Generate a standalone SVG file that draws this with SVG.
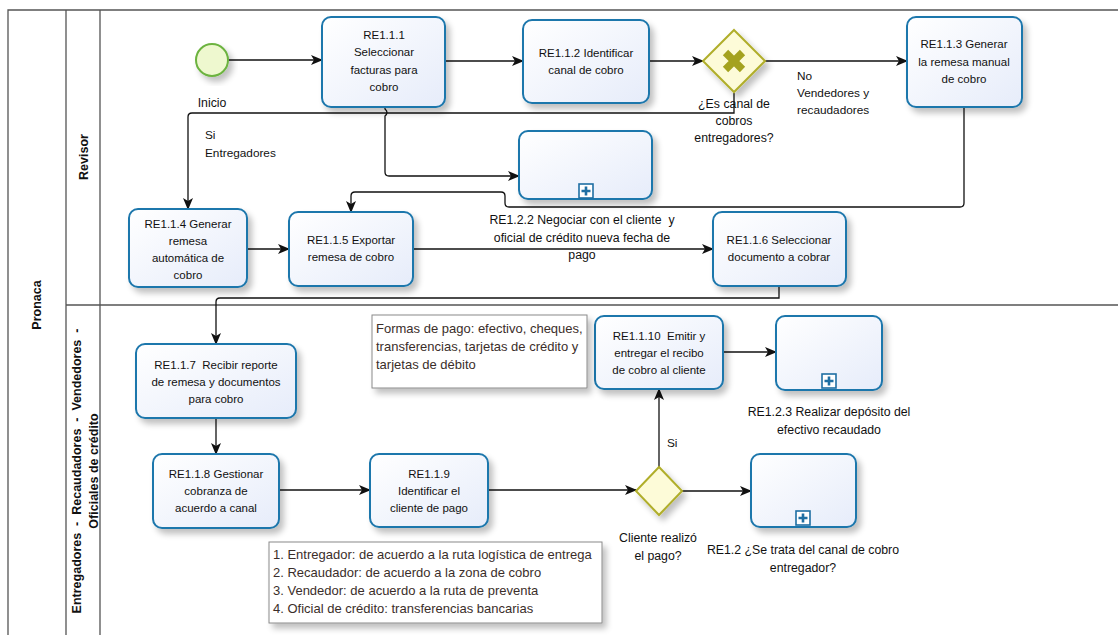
<svg xmlns="http://www.w3.org/2000/svg" width="1118" height="635" viewBox="0 0 1118 635">
  <defs>
    <linearGradient id="taskFill" x1="0" y1="0" x2="1" y2="1">
      <stop offset="0" stop-color="#ffffff"/>
      <stop offset="1" stop-color="#e6ecfa"/>
    </linearGradient>
    <filter id="shadow" x="-20%" y="-20%" width="150%" height="150%">
      <feGaussianBlur in="SourceAlpha" stdDeviation="3"/>
      <feOffset dx="4" dy="5" result="b"/>
      <feComponentTransfer><feFuncA type="linear" slope="0.25"/></feComponentTransfer>
      <feMerge><feMergeNode/><feMergeNode in="SourceGraphic"/></feMerge>
    </filter>
    <marker id="arrow" viewBox="0 0 12 10" refX="11" refY="5" markerWidth="12" markerHeight="10" markerUnits="userSpaceOnUse" orient="auto">
      <path d="M0,0 L12,5 L0,10 L3,5 z" fill="#111"/>
    </marker>
    <g id="plusMarker">
      <rect x="-7" y="-7" width="14" height="14" fill="#fff" stroke="#1f6fa3" stroke-width="1.6"/>
      <path d="M-4.5,0 H4.5 M0,-4.5 V4.5" stroke="#1f6fa3" stroke-width="2.6"/>
    </g>
  </defs>
  <style>
    text { white-space: pre; }
    .lane { fill: none; stroke: #555; stroke-width: 1.3; }
    .task { fill: url(#taskFill); stroke: #1f77ac; stroke-width: 2; filter: url(#shadow); }
    .gw { fill: #fdfbd8; stroke: #b0ae2a; stroke-width: 2; filter: url(#shadow); }
    .t { font-family: "Liberation Sans", Arial, sans-serif; font-size: 11.5px; fill: #111; text-anchor: middle; }
    .lbl { font-family: "Liberation Sans", Arial, sans-serif; font-size: 12.3px; fill: #111; text-anchor: middle; }
    .tl { font-family: "Liberation Sans", Arial, sans-serif; font-size: 11.8px; fill: #111; }
    .note { font-family: "Liberation Sans", Arial, sans-serif; font-size: 13px; fill: #3b2e2a; }
    .hdr { font-family: "Liberation Sans", Arial, sans-serif; font-size: 12.5px; font-weight: bold; fill: #111; text-anchor: middle; }
    .flow { fill: none; stroke: #111; stroke-width: 1.3; marker-end: url(#arrow); }
    .annot { fill: #fff; stroke: #8a8a8a; stroke-width: 1; filter: url(#shadow); }
  </style>

  <rect width="1118" height="635" fill="#fff"/>

  <!-- pool and lanes -->
  <g id="pool">
    <path class="lane" d="M1120,10 H8 V640"/>
    <path class="lane" d="M66,10 V640 M100,10 V640 M66,305 H1120"/>
    <text class="hdr" transform="translate(41,305) rotate(-90)">Pronaca</text>
    <text class="hdr" transform="translate(88,157) rotate(-90)">Revisor</text>
    <text class="hdr" transform="translate(81,471) rotate(-90)">Entregadores  -  Recaudadores  -  Vendedores  -</text>
    <text class="hdr" transform="translate(98,471) rotate(-90)">Oficiales de crédito</text>
  </g>

  <!-- sequence flows -->
  <g id="connectors">
    <path class="flow" d="M228,60 H322"/>
    <path class="flow" d="M445,61 H523"/>
    <path class="flow" d="M649,61 H703"/>
    <path class="flow" d="M765,61 H907"/>
    <path class="flow" d="M734,93 V113 H192 Q188,113 188,117 V209"/>
    <path class="flow" d="M385,107 V109 Q389,112.5 385,116 V172 Q385,176 389,176 H519"/>
    <path class="flow" d="M964,107 V203 Q964,207 960,207 H509 Q505,207 505,203 V196 Q505,192 501,192 H355 Q351,192 351,196 V212"/>
    <path class="flow" d="M247,249 H289"/>
    <path class="flow" d="M413,249 H713"/>
    <path class="flow" d="M779,286 V298 H220 Q216,298 216,302 V344"/>
    <path class="flow" d="M216,418 V454"/>
    <path class="flow" d="M279,490 H370"/>
    <path class="flow" d="M488,490 H636"/>
    <path class="flow" d="M682,491 H751"/>
    <path class="flow" d="M659,467 V389"/>
    <path class="flow" d="M723,352 H776"/>
    <text class="tl" x="205" y="139">Si</text>
    <text class="tl" x="205" y="157">Entregadores</text>
    <text class="tl" x="797" y="80">No</text>
    <text class="tl" x="797" y="97">Vendedores y</text>
    <text class="tl" x="797" y="114">recaudadores</text>
    <text class="lbl" x="582" y="224">RE1.2.2 Negociar con el cliente  y</text>
    <text class="lbl" x="582" y="242">oficial de crédito nueva fecha de</text>
    <text class="lbl" x="582" y="259">pago</text>
    <text class="tl" x="667" y="447">Si</text>
  </g>

  <!-- start event -->
  <g id="inicio">
    <circle cx="212" cy="60" r="16" fill="#eef8cf" stroke="#6cb33f" stroke-width="2" filter="url(#shadow)"/>
    <text class="lbl" x="212" y="107">Inicio</text>
  </g>

  <g id="re111">
    <rect class="task" x="322" y="17" width="123" height="90" rx="9"/>
    <text class="t" x="384" y="39">RE1.1.1</text>
    <text class="t" x="384" y="56">Seleccionar</text>
    <text class="t" x="384" y="74">facturas para</text>
    <text class="t" x="384" y="91">cobro</text>
  </g>

  <g id="re112">
    <rect class="task" x="523" y="20" width="126" height="83" rx="9"/>
    <text class="t" x="586" y="57">RE1.1.2 Identificar</text>
    <text class="t" x="586" y="74">canal de cobro</text>
  </g>

  <g id="gw-canal">
    <path class="gw" d="M734,30 L765,61 L734,92 L703,61 z"/>
    <path d="M725.5,52.5 L742.5,69.5 M742.5,52.5 L725.5,69.5" stroke="#a4a21f" stroke-width="7.5"/>
    <text class="lbl" x="734" y="108">¿Es canal de</text>
    <text class="lbl" x="734" y="125">cobros</text>
    <text class="lbl" x="734" y="142">entregadores?</text>
  </g>

  <g id="re113">
    <rect class="task" x="907" y="17" width="115" height="90" rx="9"/>
    <text class="t" x="964" y="48">RE1.1.3 Generar</text>
    <text class="t" x="964" y="66">la remesa manual</text>
    <text class="t" x="964" y="83">de cobro</text>
  </g>

  <g id="sub-top">
    <rect class="task" x="519" y="131" width="133" height="68" rx="9"/>
    <use href="#plusMarker" x="586" y="191"/>
  </g>

  <g id="re114">
    <rect class="task" x="129" y="209" width="118" height="78" rx="9"/>
    <text class="t" x="188" y="228">RE1.1.4 Generar</text>
    <text class="t" x="188" y="245">remesa</text>
    <text class="t" x="188" y="262">automática de</text>
    <text class="t" x="188" y="279">cobro</text>
  </g>

  <g id="re115">
    <rect class="task" x="289" y="212" width="124" height="74" rx="9"/>
    <text class="t" x="351" y="244">RE1.1.5 Exportar</text>
    <text class="t" x="351" y="261">remesa de cobro</text>
  </g>

  <g id="re116">
    <rect class="task" x="713" y="212" width="133" height="74" rx="9"/>
    <text class="t" x="779" y="244">RE1.1.6 Seleccionar</text>
    <text class="t" x="779" y="261">documento a cobrar</text>
  </g>

  <g id="re117">
    <rect class="task" x="136" y="344" width="160" height="74" rx="9"/>
    <text class="t" x="216" y="369">RE1.1.7  Recibir reporte</text>
    <text class="t" x="216" y="386">de remesa y documentos</text>
    <text class="t" x="216" y="403">para cobro</text>
  </g>

  <g id="re118">
    <rect class="task" x="153" y="454" width="126" height="74" rx="9"/>
    <text class="t" x="216" y="478">RE1.1.8 Gestionar</text>
    <text class="t" x="216" y="495">cobranza de</text>
    <text class="t" x="216" y="512">acuerdo a canal</text>
  </g>

  <g id="re119">
    <rect class="task" x="370" y="454" width="118" height="73" rx="9"/>
    <text class="t" x="429" y="478">RE1.1.9</text>
    <text class="t" x="429" y="495">Identificar el</text>
    <text class="t" x="429" y="512">cliente de pago</text>
  </g>

  <g id="gw-pago">
    <path class="gw" d="M659,467 L682,491 L659,515 L636,491 z"/>
    <text class="lbl" x="658" y="542">Cliente realizó</text>
    <text class="lbl" x="658" y="560">el pago?</text>
  </g>

  <g id="re1110">
    <rect class="task" x="595" y="316" width="128" height="73" rx="9"/>
    <text class="t" x="659" y="340">RE1.1.10  Emitir y</text>
    <text class="t" x="659" y="357">entregar el recibo</text>
    <text class="t" x="659" y="374">de cobro al cliente</text>
  </g>

  <g id="re123">
    <rect class="task" x="776" y="316" width="106" height="74" rx="9"/>
    <use href="#plusMarker" x="829" y="381"/>
    <text class="lbl" x="829" y="416">RE1.2.3 Realizar depósito del</text>
    <text class="lbl" x="829" y="434">efectivo recaudado</text>
  </g>

  <g id="re12">
    <rect class="task" x="751" y="454" width="105" height="73" rx="9"/>
    <use href="#plusMarker" x="803" y="518"/>
    <text class="lbl" x="803" y="554">RE1.2 ¿Se trata del canal de cobro</text>
    <text class="lbl" x="803" y="572">entregador?</text>
  </g>

  <g id="nota-formas-pago">
    <rect class="annot" x="372" y="315" width="215" height="73"/>
    <text class="note" x="376" y="333">Formas de pago: efectivo, cheques,</text>
    <text class="note" x="376" y="351">transferencias, tarjetas de crédito y</text>
    <text class="note" x="376" y="369">tarjetas de débito</text>
  </g>

  <g id="nota-canales">
    <rect class="annot" x="269" y="542" width="333" height="81"/>
    <text class="note" x="273" y="559">1. Entregador: de acuerdo a la ruta logística de entrega</text>
    <text class="note" x="273" y="577">2. Recaudador: de acuerdo a la zona de cobro</text>
    <text class="note" x="273" y="595">3. Vendedor: de acuerdo a la ruta de preventa</text>
    <text class="note" x="273" y="613">4. Oficial de crédito: transferencias bancarias</text>
  </g>
</svg>
